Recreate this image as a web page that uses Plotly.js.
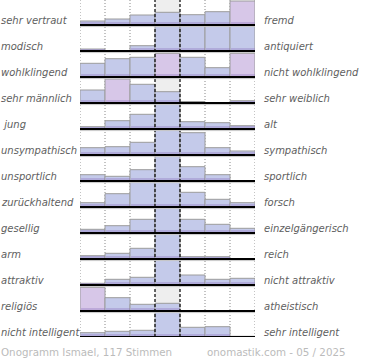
<!DOCTYPE html>
<html>
<head>
<meta charset="utf-8">
<script src="https://cdn.plot.ly/plotly-3.0.1.min.js"></script>
<style>html,body{margin:0;padding:0;background:#fff;}#chart{width:370px;height:360px;}</style>
</head>
<body>
<div id="chart"></div>
<script>
// Left / right poles of each semantic scale
const leftLabels = ['sehr vertraut','modisch','wohlklingend','sehr männlich','\u00a0jung','unsympathisch','unsportlich','zurückhaltend','gesellig','arm','attraktiv','religiös','nicht intelligent'];
const rightLabels = ['fremd','antiquiert','nicht wohlklingend','sehr weiblich','alt','sympathisch','sportlich','forsch','einzelgängerisch','reich','nicht attraktiv','atheistisch','sehr intelligent'];
const steps = [0,1,2,3,4,5,6];

// Bar heights per scale (full row = 25, values at 25 are cut at the row top)
const vertrautFremd        = [4, 6, 10, 12.7, 10.3, 13.3, 24];
const modischAntiquiert    = [2, 0, 5.3, 25, 25, 25, 25];
const wohlklingend         = [13.7, 18.3, 19.7, 23.7, 19.7, 9.3, 23.7];
const maennlichWeiblich    = [13, 24, 18.7, 11.3, 1.5, 0, 2.3];
const jungAlt              = [2.3, 8.3, 14.7, 25, 7.3, 6.3, 3.3];
const sympathisch          = [7.3, 8.3, 12.7, 25, 22.3, 7.3, 4];
const sportlich            = [6.3, 4.7, 11.3, 25, 14.3, 6.3, 0];
const zurueckhaltendForsch = [4.3, 13.3, 25, 25, 14.7, 7.7, 4.3];
const geselligEinzel       = [3.7, 7.3, 13.7, 25, 13.7, 8.7, 4.7];
const armReich             = [3.3, 5.7, 10.7, 25, 2.3, 2.3, 0];
const attraktiv            = [1.7, 5.7, 7.7, 25, 10, 5.7, 6.7];
const religioesAtheist     = [23.7, 13.3, 6.7, 7.7, 0, 0, 0];
const intelligent          = [4.3, 5.7, 6.7, 25, 9.7, 10.3, 0.7];

const rows = [vertrautFremd, modischAntiquiert, wohlklingend, maennlichWeiblich, jungAlt, sympathisch,
  sportlich, zurueckhaltendForsch, geselligEinzel, armReich, attraktiv, religioesAtheist, intelligent];

const PX = 26;            // pixels per row
const N = rows.length;
const CAP = 25;

function mix(a, b, t) {
  return 'rgb(' + a.map((c, i) => Math.round(c + (b[i] - c) * t)).join(',') + ')';
}
const BLUE = [196, 202, 234];
const PINK = [218, 198, 232];

const traces = [];
rows.forEach((vals, i) => {
  const base = (N - 1 - i);
  const h = vals.map(v => Math.min(v, CAP) / PX);
  const colors = vals.map(v => {
    if (v >= CAP) return mix(BLUE, BLUE, 0);
    const t = Math.max(0, Math.min(1, (v - 22.5) / 1.2)) * 0.85;
    return mix(BLUE, PINK, t);
  });
  traces.push({
    type: 'bar', x: steps, y: h, base: steps.map(() => base), width: 1,
    marker: {color: colors, line: {color: '#9c9c9c', width: 1}},
    hoverinfo: 'skip'
  });
  traces.push({
    type: 'bar', x: steps, y: vals.map(v => Math.min(v, 3) / PX), base: steps.map(() => base), width: 0.96,
    marker: {color: 'rgba(140,115,190,0.35)', line: {width: 0}},
    hoverinfo: 'skip'
  });
});

const shapes = [];
// center column background
shapes.push({type: 'rect', xref: 'x', yref: 'paper', x0: 2.5, x1: 3.5, y0: 0, y1: 1,
  fillcolor: '#eeeeee', line: {width: 0}, layer: 'below'});
[-0.5, 0.5, 1.5, 4.5, 5.5, 6.5].forEach(x => shapes.push({type: 'line', xref: 'x', yref: 'paper',
  x0: x, x1: x, y0: 0, y1: 1, line: {color: '#888', width: 1, dash: '1px,2px'}, layer: 'below'}));
[2.5, 3.5].forEach(x => shapes.push({type: 'line', xref: 'x', yref: 'paper',
  x0: x, x1: x, y0: 0, y1: 1, line: {color: '#000', width: 1.2, dash: '3px,2px'}, layer: 'above'}));
for (let i = 0; i < N; i++) {
  const b = N - 1 - i;
  shapes.push({type: 'line', xref: 'x', yref: 'y', x0: -0.5, x1: 6.5, y0: b - 1.6 / PX, y1: b - 1.6 / PX,
    line: {color: '#c8c8c8', width: 1}, layer: 'above'});
  shapes.push({type: 'line', xref: 'x', yref: 'y', x0: -0.5, x1: 6.5, y0: b, y1: b,
    line: {color: '#000', width: 1.8}, layer: 'above'});
}

const lblFont = {family: 'DejaVu Sans', size: 10, color: '#606060', style: 'italic'};
const annotations = [];
for (let i = 0; i < N; i++) {
  const yb = N - 1 - i + 5 / PX;
  annotations.push({xref: 'paper', yref: 'y', x: -81 / 175, y: yb, xanchor: 'left', yanchor: 'middle',
    text: leftLabels[i], showarrow: false, font: lblFont});
  annotations.push({xref: 'paper', yref: 'y', x: 182 / 175, y: yb, xanchor: 'left', yanchor: 'middle',
    text: rightLabels[i], showarrow: false, font: lblFont});
}
const footFont = {family: 'DejaVu Sans', size: 10.3, color: '#bbbbbb'};
annotations.push({xref: 'paper', yref: 'paper', x: -81 / 175, y: -15 / 337, xanchor: 'left', yanchor: 'middle',
  text: 'Onogramm Ismael, 117 Stimmen', showarrow: false, font: footFont});
annotations.push({xref: 'paper', yref: 'paper', x: 268 / 175, y: -15 / 337, xanchor: 'right', yanchor: 'middle',
  text: 'onomastik.com - 05 / 2025', showarrow: false, font: footFont});

const layout = {
  width: 370, height: 360,
  margin: {l: 80, r: 115, t: 0, b: 23, pad: 0},
  paper_bgcolor: '#fff', plot_bgcolor: 'rgba(0,0,0,0)',
  barmode: 'overlay', bargap: 0, showlegend: false,
  xaxis: {range: [-0.5, 6.5], visible: false, fixedrange: true},
  yaxis: {range: [0, 337 / PX], visible: false, fixedrange: true},
  shapes: shapes, annotations: annotations
};
Plotly.newPlot('chart', traces, layout, {staticPlot: true, displayModeBar: false});
</script>
</body>
</html>
